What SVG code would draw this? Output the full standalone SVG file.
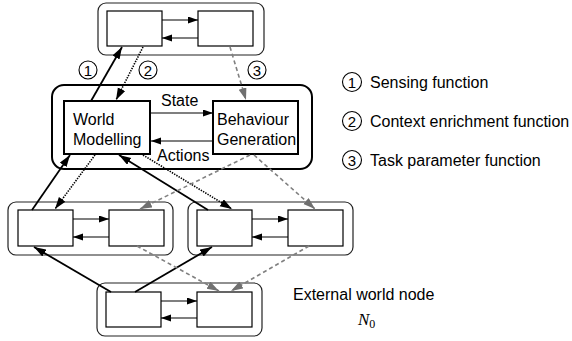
<svg xmlns="http://www.w3.org/2000/svg" width="572" height="341" viewBox="0 0 572 341">
<style>
.cont{fill:none;stroke:#222;stroke-width:1.2}
.mid{fill:none;stroke:#000;stroke-width:2}
.box{fill:#fff;stroke:#000;stroke-width:1.2}
.big{fill:#fff;stroke:#000;stroke-width:2}
.in{stroke:#000;stroke-width:1.1;fill:none;marker-end:url(#ah)}
.solid{stroke:#000;stroke-width:1.8;fill:none;marker-end:url(#ab)}
.dot{stroke:#000;stroke-width:1.6;stroke-dasharray:1.4 1.2;fill:none;marker-end:url(#ab)}
.gray{stroke:#808080;stroke-width:1.6;stroke-dasharray:4 3;fill:none;marker-end:url(#ag)}
.t{font-family:"Liberation Sans",Arial,sans-serif;font-size:16px;fill:#000}
.c{fill:#fff;stroke:#000;stroke-width:1.1}
.n{font-family:"Liberation Sans",Arial,sans-serif;font-size:15px;fill:#000;text-anchor:middle}
</style>
<defs>
<marker id="ah" markerUnits="userSpaceOnUse" markerWidth="10" markerHeight="8" refX="10" refY="3.5" orient="auto"><path d="M0,0 L10,3.5 L0,7 z" fill="#000"/></marker>
<marker id="ab" markerUnits="userSpaceOnUse" markerWidth="12" markerHeight="9" refX="12" refY="4" orient="auto"><path d="M0,0 L12,4 L0,8 z" fill="#000"/></marker>
<marker id="ag" markerUnits="userSpaceOnUse" markerWidth="12" markerHeight="9" refX="12" refY="4" orient="auto"><path d="M0,0 L12,4 L0,8 z" fill="#707070"/></marker>
</defs>

<g id="node-top">
<rect class="cont" x="98" y="3" width="166" height="52" rx="8"/>
<rect class="box" x="107" y="11" width="55" height="35"/>
<rect class="box" x="198" y="11" width="55" height="35"/>
<line class="in" x1="162" y1="20" x2="198" y2="20"/>
<line class="in" x1="198" y1="38" x2="162" y2="38"/>
</g>

<g id="node-middle">
<rect class="mid" x="52" y="85" width="260" height="84" rx="12"/>
<rect class="big" x="64" y="101" width="86" height="53"/>
<rect class="big" x="213" y="101" width="85" height="53"/>
<text class="t" x="73" y="125">World</text>
<text class="t" x="73" y="145">Modelling</text>
<text class="t" x="217" y="125">Behaviour</text>
<text class="t" x="217" y="145">Generation</text>
<line class="in" x1="151" y1="113" x2="213" y2="113"/>
<line class="in" x1="213" y1="141" x2="151" y2="141"/>
<text class="t" x="161" y="106">State</text>
<text class="t" x="157" y="161">Actions</text>
</g>

<g id="node-bl">
<rect class="cont" x="8" y="202" width="165" height="53" rx="8"/>
<rect class="box" x="18" y="210" width="55" height="36"/>
<rect class="box" x="109" y="210" width="55" height="36"/>
<line class="in" x1="73" y1="219" x2="109" y2="219"/>
<line class="in" x1="109" y1="237" x2="73" y2="237"/>
</g>

<g id="node-br">
<rect class="cont" x="188" y="202" width="165" height="53" rx="8"/>
<rect class="box" x="197" y="210" width="55" height="36"/>
<rect class="box" x="288" y="210" width="55" height="36"/>
<line class="in" x1="252" y1="219" x2="288" y2="219"/>
<line class="in" x1="288" y1="237" x2="252" y2="237"/>
</g>

<g id="node-bottom">
<rect class="cont" x="97" y="283" width="165" height="53" rx="8"/>
<rect class="box" x="106" y="292" width="55" height="35"/>
<rect class="box" x="197" y="292" width="55" height="35"/>
<line class="in" x1="161" y1="301" x2="197" y2="301"/>
<line class="in" x1="197" y1="318" x2="161" y2="318"/>
</g>

<g id="connectors">
<line class="solid" x1="91" y1="101" x2="122" y2="47"/>
<line class="dot" x1="143" y1="47" x2="116" y2="100"/>
<line class="gray" x1="230" y1="47" x2="246" y2="100"/>
<line class="solid" x1="32" y1="210" x2="70" y2="155"/>
<line class="dot" x1="95" y1="155" x2="55" y2="209"/>
<line class="solid" x1="208" y1="210" x2="119" y2="155"/>
<line class="dot" x1="143" y1="155" x2="232" y2="209"/>
<line class="gray" x1="250" y1="155" x2="140" y2="209"/>
<line class="gray" x1="254" y1="155" x2="315" y2="209"/>
<line class="solid" x1="111" y1="292" x2="34" y2="247"/>
<line class="solid" x1="135" y1="292" x2="212" y2="247"/>
<line class="gray" x1="137" y1="246" x2="219" y2="291"/>
<line class="gray" x1="309" y1="246" x2="231" y2="291"/>
</g>

<g id="labels">
<circle class="c" cx="88" cy="70" r="9"/><text class="n" x="88" y="75.5">1</text>
<circle class="c" cx="148" cy="70" r="9"/><text class="n" x="148" y="75.5">2</text>
<circle class="c" cx="257" cy="70" r="9"/><text class="n" x="257" y="75.5">3</text>
</g>

<g id="legend">
<circle class="c" cx="352" cy="82" r="9.5"/><text class="n" x="352" y="87.5">1</text>
<text class="t" x="370" y="88">Sensing function</text>
<circle class="c" cx="352" cy="121" r="9.5"/><text class="n" x="352" y="126.5">2</text>
<text class="t" x="370" y="127">Context enrichment function</text>
<circle class="c" cx="352" cy="160" r="9.5"/><text class="n" x="352" y="165.5">3</text>
<text class="t" x="370" y="166">Task parameter function</text>
<text class="t" x="293" y="300">External world node</text>
<text x="358" y="325" font-family="'Liberation Serif','Times New Roman',serif" font-style="italic" font-size="17">N<tspan font-style="normal" font-size="12" dy="3">0</tspan></text>
</g>
</svg>
